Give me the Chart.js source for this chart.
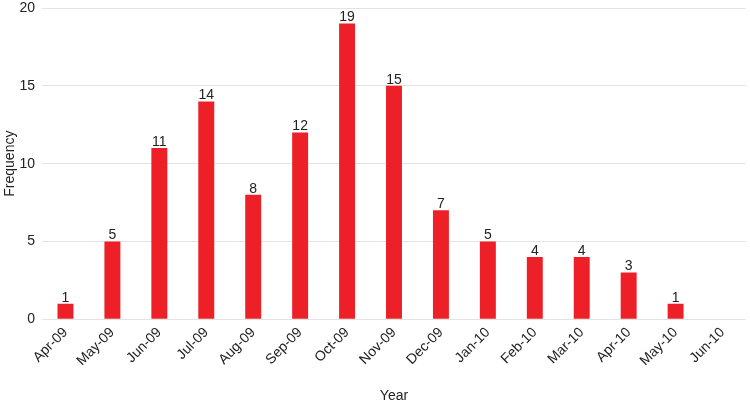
<!DOCTYPE html>
<html><head><meta charset="utf-8">
<script src="https://cdn.jsdelivr.net/npm/chart.js@4/dist/chart.umd.min.js"></script>
<style>html,body{margin:0;padding:0;background:#fff}#w{width:750px;height:405px}</style>
</head><body><div id="w"><canvas id="c"></canvas></div>
<script>
const categories = ["Apr-09","May-09","Jun-09","Jul-09","Aug-09","Sep-09","Oct-09","Nov-09","Dec-09","Jan-10","Feb-10","Mar-10","Apr-10","May-10","Jun-10"];
const frequency = [1,5,11,14,8,12,19,15,7,5,4,4,3,1,0];
const yTicks = [0,5,10,15,20];
const FONT = '"Liberation Sans", Arial, sans-serif';

const labelPlugin = {
  id: 'vlabels',
  afterDatasetsDraw(chart) {
    const ctx = chart.ctx;
    const meta = chart.getDatasetMeta(0);
    ctx.save();
    ctx.font = '14px ' + FONT;
    ctx.fillStyle = '#222';
    ctx.textAlign = 'center';
    ctx.textBaseline = 'bottom';
    meta.data.forEach((bar, i) => {
      const v = frequency[i];
      if (v > 0) ctx.fillText(String(v), bar.x, bar.y + 1);
    });
    ctx.restore();
  }
};

new Chart(document.getElementById('c'), {
  type: 'bar',
  data: { labels: categories, datasets: [{ data: frequency, backgroundColor: '#ee2027', barPercentage: 0.68, categoryPercentage: 0.5 }] },
  options: {
    responsive: true, maintainAspectRatio: false, animation: false,
    layout: { padding: { top: 0, right: 4, left: 0, bottom: 0 } },
    plugins: { legend: { display: false }, tooltip: { enabled: false } },
    scales: {
      x: {
        grid: { display: false, drawTicks: false },
        border: { display: false },
        ticks: { maxRotation: 45, minRotation: 45, color: '#222', padding: 5, font: { size: 14, family: FONT } },
        title: { display: true, text: 'Year', color: '#222', font: { size: 14, family: FONT }, padding: { top: 14, bottom: 0 } }
      },
      y: {
        min: 0, max: 20,
        afterBuildTicks(axis) { axis.ticks = yTicks.map(v => ({ value: v })); },
        afterFit(axis) { axis.width = 42; axis.paddingTop = 8; },
        grid: { color: '#e3e3e3', lineWidth: 1, drawTicks: false },
        border: { display: false },
        ticks: { color: '#222', padding: 7, font: { size: 14, family: FONT } },
        title: { display: true, text: 'Frequency', color: '#222', font: { size: 14, family: FONT }, padding: { top: 2, bottom: 0 } }
      }
    }
  },
  plugins: [labelPlugin]
});
</script></body></html>
